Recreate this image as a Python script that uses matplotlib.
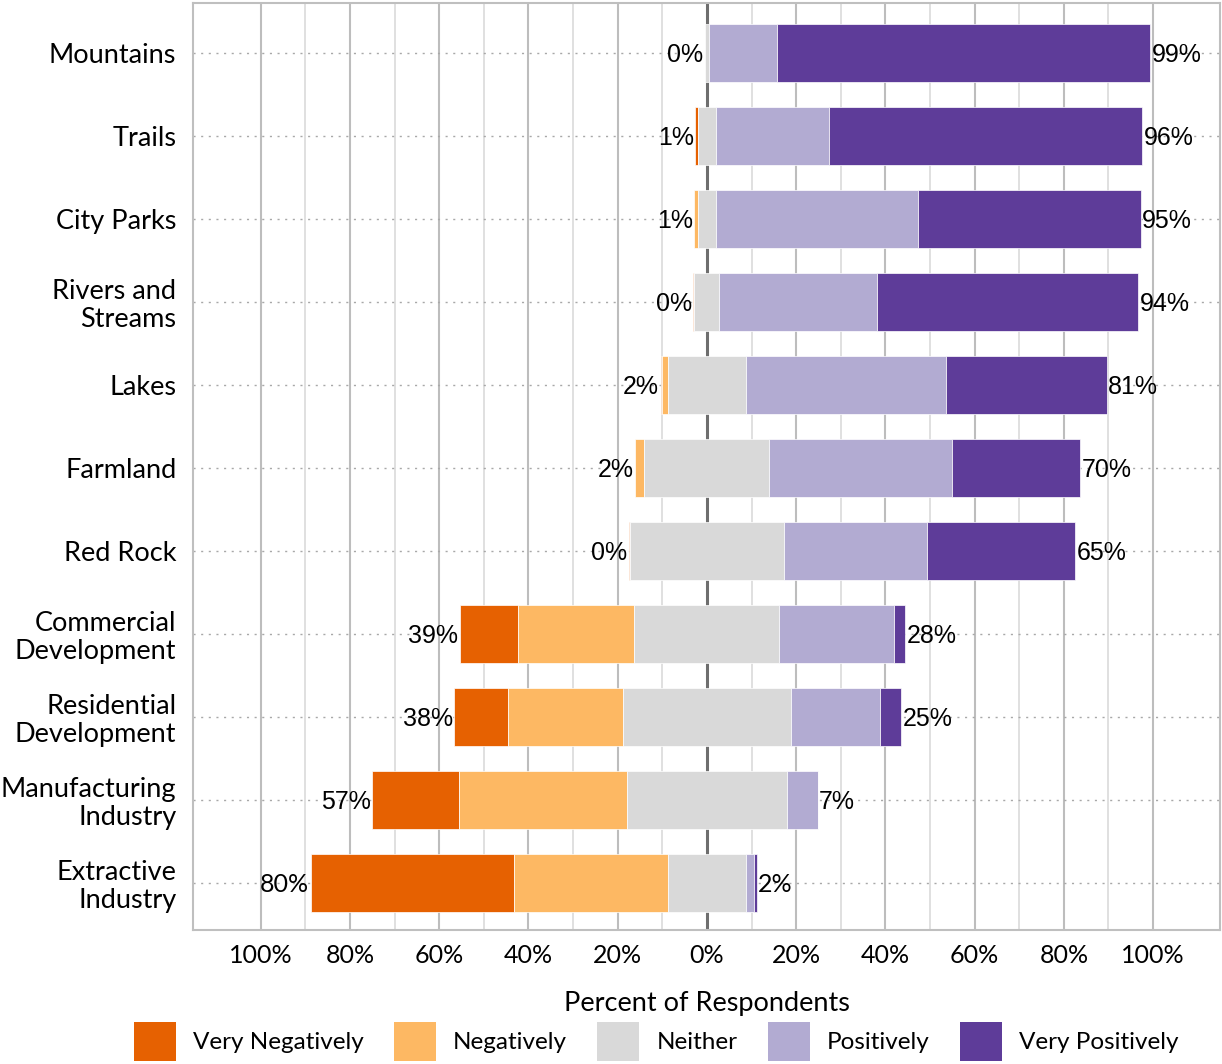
import numpy as np
import matplotlib.pyplot as plt
from matplotlib.patches import Patch

categories = [
    "Mountains", "Trails", "City Parks", "Rivers and\nStreams", "Lakes",
    "Farmland", "Red Rock", "Commercial\nDevelopment", "Residential\nDevelopment",
    "Manufacturing\nIndustry", "Extractive\nIndustry",
]
levels = ["Very Negatively", "Negatively", "Neither", "Positively", "Very Positively"]
colors = ["#E66101", "#FDB863", "#D9D9D9", "#B2ABD2", "#5E3C99"]

# percent of respondents per category
very_neg = [0.0, 0.6, 0.0, 0.3, 0.3, 0.0, 0.3, 13.0, 12.1, 19.4, 45.6]
neg = [0.0, 0.0, 0.7, 0.0, 1.4, 2.2, 0.0, 26.2, 25.6, 37.7, 34.6]
neither = [1.0, 4.0, 4.2, 5.6, 17.4, 28.0, 34.4, 32.5, 37.8, 35.9, 17.3]
pos = [15.2, 25.4, 45.3, 35.4, 44.8, 41.0, 32.1, 25.6, 19.9, 6.9, 1.9]
very_pos = [83.7, 70.2, 49.8, 58.5, 36.1, 28.7, 33.2, 2.6, 4.8, 0.0, 0.6]

FONT = "Lato"
NUM_FONT = "Liberation Sans"

fig = plt.figure(figsize=(12.22, 10.64), dpi=100)
ax = fig.add_axes([193 / 1222, 1 - 930 / 1064, 1027 / 1222, 927 / 1064])

y = np.arange(len(categories))
data = np.array([very_neg, neg, neither, pos, very_pos])
start = -(data[0] + data[1] + data[2] / 2)

left = start.copy()
for vals, col, lab in zip(data, colors, levels):
    ax.barh(y, vals, left=left, height=0.7, color=col, edgecolor="white",
            linewidth=0.5, zorder=3, label=lab)
    left = left + vals
end = left

# totals on each side
neg_tot = data[0] + data[1]
pos_tot = data[3] + data[4]
for i in range(len(categories)):
    fam = FONT if i == len(categories) - 1 else NUM_FONT
    ax.text(start[i] - 0.3, i, f"{round(neg_tot[i]):.0f}%", ha="right",
            va="center_baseline", fontsize=18, family=fam, zorder=4)
    ax.text(end[i] + 0.3, i, f"{round(pos_tot[i]):.0f}%", ha="left",
            va="center_baseline", fontsize=18, family=fam, zorder=4)

# grid
for v in range(-90, 100, 20):
    ax.axvline(v, color="#e0e0e0", lw=1.4, zorder=1)
for v in range(-100, 101, 20):
    if v != 0:
        ax.axvline(v, color="#bdbdbd", lw=1.5, zorder=1)
ax.axvline(0, color="#6e6e6e", lw=2.2, zorder=1)
for yy in y:
    ax.axhline(yy, color="#a8a8a8", lw=1, linestyle=(0, (1.5, 4)), zorder=2)

ax.set_xlim(-115.2, 115)
ax.set_ylim(len(categories) - 0.43, -0.6)

ticks = np.arange(-100, 101, 20)
ax.set_xticks(ticks)
ax.set_xticklabels([f"{abs(t)}%" for t in ticks], family=FONT, fontsize=18)
ax.set_yticks(y)
ax.set_yticklabels(categories, family=FONT, fontsize=19.5, linespacing=1.15)
ax.tick_params(length=0)
ax.tick_params(axis="x", pad=10)
ax.tick_params(axis="y", pad=12)
ax.set_xlabel("Percent of Respondents", family=FONT, fontsize=19.5, labelpad=17)

for sp in ax.spines.values():
    sp.set_color("#bfbfbf")
    sp.set_linewidth(1.5)

handles = [Patch(facecolor=c) for c in colors]
fig.legend(handles, levels, loc="upper center", bbox_to_anchor=(0.537, 1 - 1022 / 1064),
           ncol=5, frameon=False, handlelength=1.73, handleheight=2.1,
           handletextpad=0.7, columnspacing=1.25, borderpad=0, borderaxespad=0,
           prop={"family": FONT, "size": 17.5})

fig.savefig("out.png", dpi=100)
